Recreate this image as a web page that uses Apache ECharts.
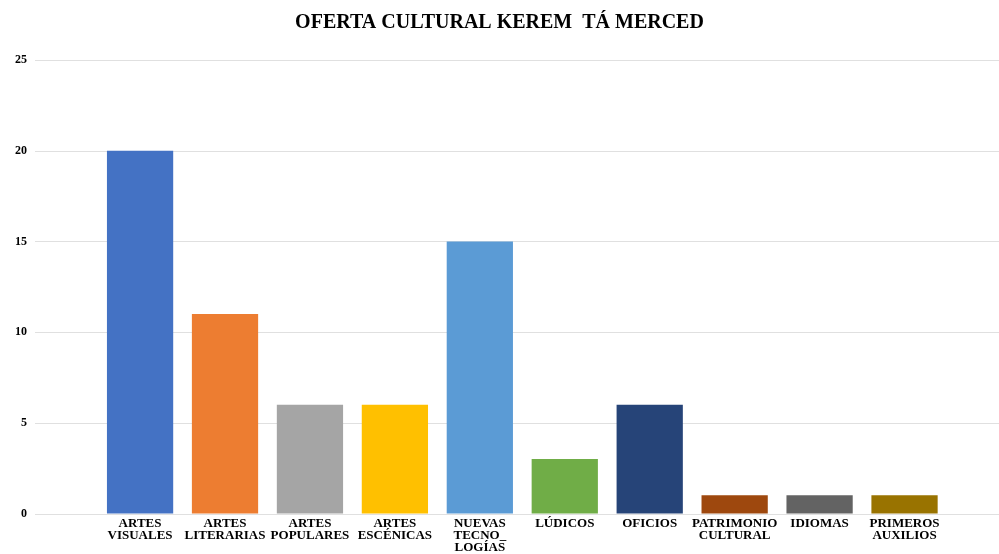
<!DOCTYPE html>
<html>
<head>
<meta charset="utf-8">
<script src="https://cdn.jsdelivr.net/npm/echarts@6/dist/echarts.min.js"></script>
<style>
html,body{margin:0;padding:0;background:#fff;}
#main{width:999px;height:554px;}
</style>
</head>
<body>
<div id="main"></div>
<script>
var title = 'OFERTA CULTURAL KEREM  TÁ MERCED';
var categories = ['ARTES\nVISUALES', 'ARTES\nLITERARIAS', 'ARTES\nPOPULARES', 'ARTES\nESCÉNICAS', 'NUEVAS\nTECNO_\nLOGÍAS', 'LÚDICOS', 'OFICIOS', 'PATRIMONIO\nCULTURAL', 'IDIOMAS', 'PRIMEROS\nAUXILIOS'];
var values = [20, 11, 6, 6, 15, 3, 6, 1, 1, 1];
var colors = ['#4472C4', '#ED7D31', '#A5A5A5', '#FFC000', '#5B9BD5', '#70AD47', '#264478', '#9E480E', '#636363', '#997300'];
var yMin = 0, yMax = 25, yInterval = 5;

var font = 'Liberation Serif';
var chart = echarts.init(document.getElementById('main'));
chart.setOption({
  animation: false,
  backgroundColor: '#fff',
  title: {
    text: title, left: 'center', top: 8,
    textStyle: {fontFamily: font, fontWeight: 'bold', fontSize: 20, color: '#000'}
  },
  grid: [
    {left: 35, right: 0, top: 60, bottom: 40},
    {left: 97.6, right: 52, top: 60, bottom: 40}
  ],
  xAxis: [
    {gridIndex: 0, type: 'value', show: false},
    {
      gridIndex: 1, type: 'category', data: categories,
      axisLine: {show: false}, axisTick: {show: false},
      axisLabel: {interval: 0, margin: 4, fontFamily: font, fontWeight: 'bold', fontSize: 13, lineHeight: 12, color: '#000'}
    }
  ],
  yAxis: [
    {
      gridIndex: 0, type: 'value', min: yMin, max: yMax, interval: yInterval,
      axisLine: {show: false}, axisTick: {show: false},
      splitLine: {lineStyle: {color: '#e0e0e0', width: 1}},
      axisLabel: {margin: 8, fontFamily: font, fontWeight: 'bold', fontSize: 12, color: '#000'}
    },
    {
      gridIndex: 1, type: 'value', min: yMin, max: yMax, interval: yInterval,
      show: false
    }
  ],
  series: [{
    type: 'bar', xAxisIndex: 1, yAxisIndex: 1,
    barCategoryGap: '22%',
    data: values.map(function (v, i) { return {value: v, itemStyle: {color: colors[i]}}; })
  }]
});
</script>
</body>
</html>
